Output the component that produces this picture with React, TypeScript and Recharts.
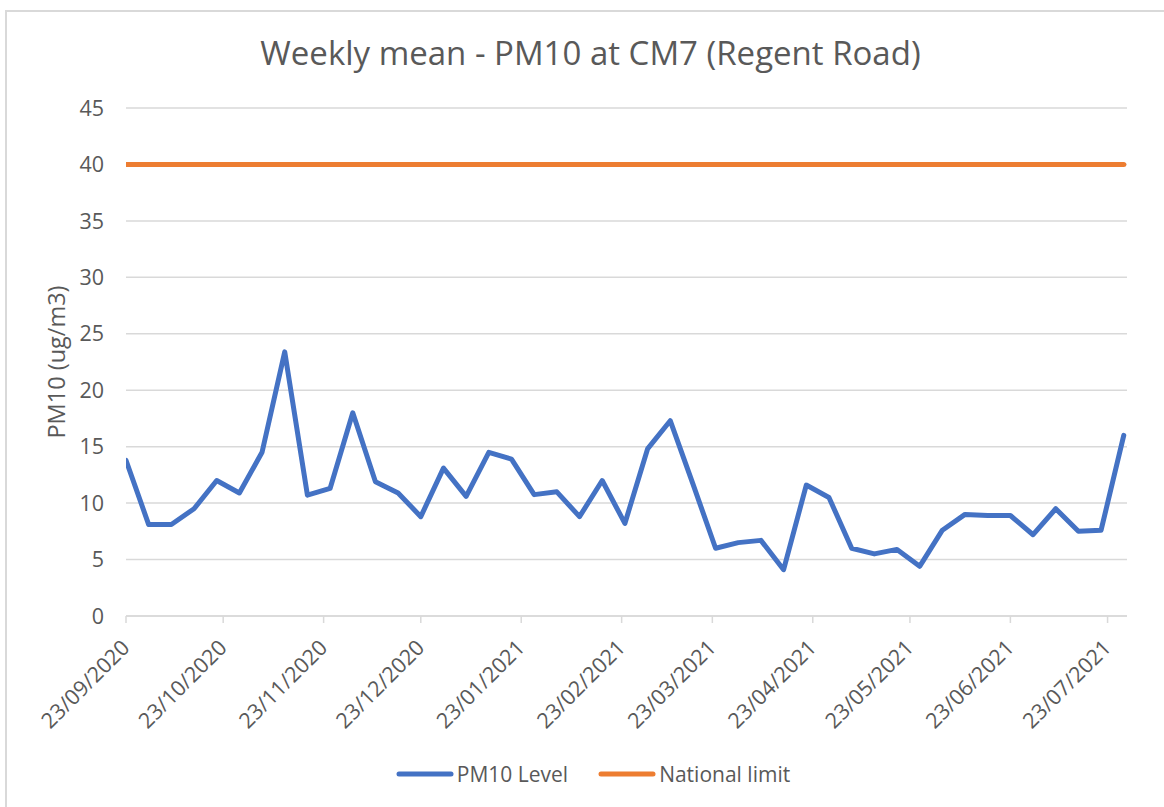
import { CartesianGrid, Legend, Line, LineChart, XAxis, YAxis } from "recharts";

// weekly sample dates (dd/mm/yyyy)
const weekDates = [
  "23/09/2020", "30/09/2020", "07/10/2020", "14/10/2020", "21/10/2020", "28/10/2020",
  "04/11/2020", "11/11/2020", "18/11/2020", "25/11/2020", "02/12/2020", "09/12/2020",
  "16/12/2020", "23/12/2020", "30/12/2020", "06/01/2021", "13/01/2021", "20/01/2021",
  "27/01/2021", "03/02/2021", "10/02/2021", "17/02/2021", "24/02/2021", "03/03/2021",
  "10/03/2021", "17/03/2021", "24/03/2021", "31/03/2021", "07/04/2021", "14/04/2021",
  "21/04/2021", "28/04/2021", "05/05/2021", "12/05/2021", "19/05/2021", "26/05/2021",
  "02/06/2021", "09/06/2021", "16/06/2021", "23/06/2021", "30/06/2021", "07/07/2021",
  "14/07/2021", "21/07/2021", "28/07/2021",
];

const pm10Level = [
  13.8, 8.1, 8.1, 9.5, 12.0, 10.9, 14.5, 23.4, 10.7, 11.3, 18.0, 11.9,
  10.9, 8.8, 13.1, 10.6, 14.5, 13.9, 10.75, 11.0, 8.8, 12.0, 8.2, 14.8,
  17.3, 11.7, 6.0, 6.5, 6.7, 4.1, 11.6, 10.5, 6.0, 5.5, 5.9, 4.4,
  7.6, 9.0, 8.9, 8.9, 7.2, 9.5, 7.5, 7.6, 16.0,
];

const nationalLimit = [
  40, 40, 40, 40, 40, 40, 40, 40, 40, 40, 40, 40,
  40, 40, 40, 40, 40, 40, 40, 40, 40, 40, 40, 40,
  40, 40, 40, 40, 40, 40, 40, 40, 40, 40, 40, 40,
  40, 40, 40, 40, 40, 40, 40, 40, 40,
];

const tickDates = [
  "23/09/2020", "23/10/2020", "23/11/2020", "23/12/2020", "23/01/2021", "23/02/2021",
  "23/03/2021", "23/04/2021", "23/05/2021", "23/06/2021", "23/07/2021",
];

const yTicks = [0, 5, 10, 15, 20, 25, 30, 35, 40, 45];

const FONT = "'Open Sans', sans-serif";
const TEXT = "#595959";
const GRID = "#d9d9d9";
const BLUE = "#4472c4";
const ORANGE = "#ed7d31";
const DAY = 86400000;

function parseDate(s: string) {
  const [d, m, y] = s.split("/").map(Number);
  return Date.UTC(y, m - 1, d);
}

const start = parseDate(weekDates[0]);
const toDay = (s: string) => Math.round((parseDate(s) - start) / DAY);

const data = weekDates.map((d, i) => ({
  t: toDay(d),
  pm10: pm10Level[i],
  limit: nationalLimit[i],
}));

const xTicks = tickDates.map(toDay);

function DateTick(props: any) {
  const { x, y, payload } = props;
  const idx = xTicks.indexOf(payload.value);
  return (
    <text
      x={0}
      y={0}
      transform={`translate(${x + 5},${y + 24}) rotate(-45)`}
      textAnchor="end"
      fill={TEXT}
      fontSize={21.5}
      fontFamily={FONT}
    >
      {tickDates[idx]}
    </text>
  );
}

function YLabel(props: any) {
  const { viewBox } = props;
  const cx = 65;
  const cy = viewBox.y + viewBox.height / 2;
  return (
    <text
      x={cx}
      y={cy}
      transform={`rotate(-90, ${cx}, ${cy})`}
      textAnchor="middle"
      fill={TEXT}
      fontSize={23.5}
      fontFamily={FONT}
    >
      PM10 (ug/m3)
    </text>
  );
}

function LegendContent() {
  const items = [
    { name: "PM10 Level", color: BLUE },
    { name: "National limit", color: ORANGE },
  ];
  return (
    <div
      style={{
        display: "flex",
        justifyContent: "center",
        gap: 30,
        fontFamily: FONT,
        fontSize: 21,
        color: TEXT,
      }}
    >
      {items.map((it) => (
        <div key={it.name} style={{ display: "flex", alignItems: "center" }}>
          <svg width={58} height={10} style={{ marginRight: 3 }}>
            <line x1={3} y1={5} x2={55} y2={5} stroke={it.color} strokeWidth={5} strokeLinecap="round" />
          </svg>
          <span>{it.name}</span>
        </div>
      ))}
    </div>
  );
}

export default function App() {
  return (
    <div
      style={{
        position: "absolute",
        left: 0,
        top: 0,
        width: 1164,
        height: 807,
        overflow: "hidden",
        background: "#fff",
      }}
    >
      <div
        style={{
          position: "absolute",
          left: 5,
          top: 10,
          width: 1200,
          height: 810,
          border: `2px solid ${GRID}`,
          boxSizing: "border-box",
        }}
      />
      <div
        style={{
          position: "absolute",
          left: 0,
          top: 37,
          width: 1181,
          textAlign: "center",
          fontFamily: FONT,
          fontSize: 33,
          lineHeight: "31px",
          color: TEXT,
        }}
      >
        Weekly mean - PM10 at CM7 (Regent Road)
      </div>
      <LineChart
        width={1164}
        height={807}
        data={data}
        margin={{ top: 108, right: 37, left: 0, bottom: 41 }}
      >
        <CartesianGrid vertical={false} stroke={GRID} strokeWidth={1.5} />
        <XAxis
          type="number"
          dataKey="t"
          domain={[0, 309]}
          ticks={xTicks}
          interval={0}
          height={150}
          tick={<DateTick />}
          tickSize={7}
          axisLine={{ stroke: GRID, strokeWidth: 1.5 }}
          tickLine={{ stroke: GRID, strokeWidth: 1.5 }}
          allowDataOverflow
        />
        <YAxis
          width={126}
          domain={[0, 45]}
          ticks={yTicks}
          interval={0}
          axisLine={false}
          tickLine={false}
          tickSize={6}
          tickMargin={16}
          tick={{ fill: TEXT, fontSize: 21.5, fontFamily: FONT }}
          label={<YLabel />}
        />
        <Legend
          layout="horizontal"
          verticalAlign="middle"
          align="center"
          wrapperStyle={{ top: 760, left: 0, width: 1186 }}
          content={<LegendContent />}
        />
        <Line
          type="linear"
          dataKey="pm10"
          name="PM10 Level"
          stroke={BLUE}
          strokeWidth={5}
          strokeLinejoin="round"
          strokeLinecap="round"
          dot={false}
          isAnimationActive={false}
        />
        <Line
          type="linear"
          dataKey="limit"
          name="National limit"
          stroke={ORANGE}
          strokeWidth={5}
          strokeLinecap="round"
          dot={false}
          isAnimationActive={false}
        />
      </LineChart>
    </div>
  );
}
